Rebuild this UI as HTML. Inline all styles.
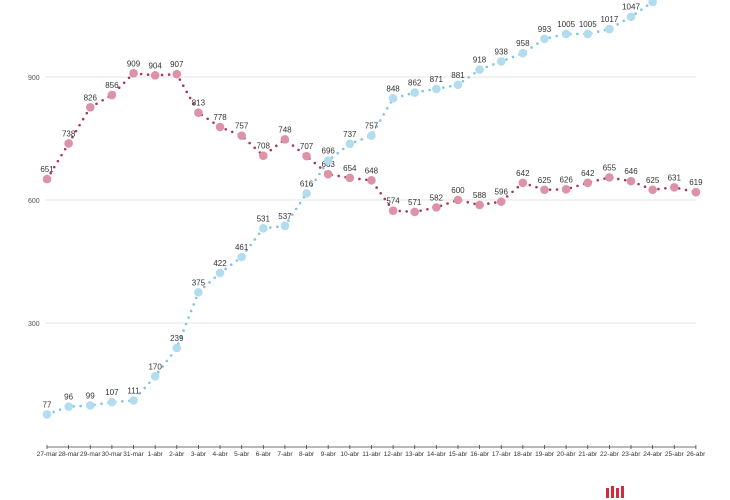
<!DOCTYPE html>
<html><head><meta charset="utf-8"><style>
body{margin:0;background:#fff;}
svg{display:block;font-family:"Liberation Sans",sans-serif;}
</style></head><body>
<svg id="s" width="730" height="500" viewBox="0 0 730 500"></svg>
<script>
const P=[651,738,826,856,909,904,907,813,778,757,708,748,707,663,654,648,574,571,582,600,588,596,642,625,626,642,655,646,625,631,619];
const B=[77,96,99,107,111,170,239,375,422,461,531,537,616,696,737,757,848,862,871,881,918,938,958,993,1005,1005,1017,1047,1083,1115,1145];
const X=i=>47+i*21.63, Y=v=>77+(900-v)*0.41;
let h='';
[900,600,300].forEach(v=>{h+=`<line x1="45" x2="696" y1="${Y(v)}" y2="${Y(v)}" stroke="#e6e6e6" stroke-width="1"/><text x="28" y="${Y(v)+3}" font-size="7" fill="#555">${v}</text>`;});
h+=`<line x1="47" x2="696" y1="447" y2="447" stroke="#444" stroke-width="0.8"/>`;
const labs=[];for(let i=27;i<=31;i++)labs.push(i+'-mar');for(let i=1;i<=26;i++)labs.push(i+'-abr');
labs.forEach((l,i)=>{h+=`<line x1="${X(i)}" x2="${X(i)}" y1="445" y2="449" stroke="#444" stroke-width="0.8"/><text x="${X(i)}" y="456" font-size="6.5" text-anchor="middle" fill="#333">${l}</text>`;});
function ser(d,fill,dot){
 let pts=d.map((v,i)=>X(i)+','+Y(v)).join(' ');
 h+=`<polyline points="${pts}" fill="none" stroke="${dot}" stroke-width="2.6" stroke-linecap="round" stroke-dasharray="0 7"/>`;
 d.forEach((v,i)=>{h+=`<circle cx="${X(i)}" cy="${Y(v)}" r="4.3" fill="${fill}"/>`;if(Y(v)>8)h+=`<text x="${X(i)}" y="${Y(v)-7}" font-size="8" text-anchor="middle" fill="#333">${v}</text>`;});
}
ser(P,'#dc93a8','#a8375a');
ser(B,'#b3dcee','#7fc4e3');
h+=`<g fill="#d42a3c"><rect x="606" y="488" width="3" height="10"/><rect x="611" y="486" width="3" height="12"/><rect x="616" y="488" width="3" height="10"/><rect x="621" y="486" width="3" height="12"/></g>`;
document.getElementById('s').innerHTML=h;
</script>
</body></html>
